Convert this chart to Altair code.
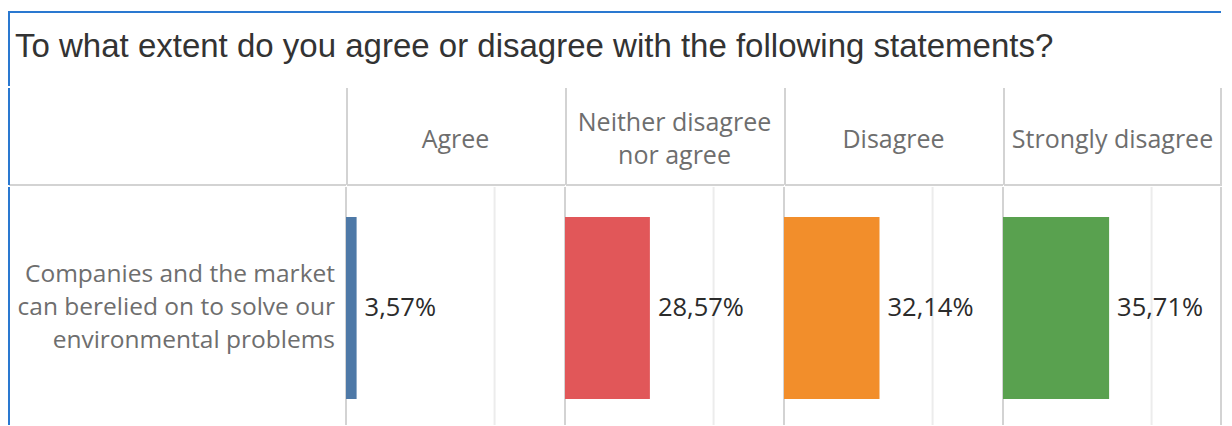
import altair as alt
import pandas as pd

# ---- data ----
title_text = "To what extent do you agree or disagree with the following statements?"
statement_lines = ["Companies and the market", "can berelied on to solve our", "environmental problems"]
categories = ["Agree", "Neither disagree nor agree", "Disagree", "Strongly disagree"]
header_lines = [["Agree"], ["Neither disagree", "nor agree"], ["Disagree"], ["Strongly disagree"]]
values = [0.0357, 0.2857, 0.3214, 0.3571]
value_labels = ["3,57%", "28,57%", "32,14%", "35,71%"]
colors = ["#4e79a7", "#e15759", "#f28e2b", "#59a14f"]
grid_values = [0.5]
zero_values = [0.0]

# ---- style / layout ----
FONT = "Open Sans"
TITLE_FONT = "Liberation Sans"
LABEL_W = 338
PANEL_W = 219
TOTAL_W = LABEL_W + 4 * PANEL_W
TITLE_H = 79
HEAD_H = 99
BODY_H = 240
LINE_H = 33.3
SEP = "#d3d3d3"
GRID = "#ececec"
BORDER = "#2a78d0"
GRAY_TXT = "#6e6e6e"
DARK_TXT = "#2b2b2b"
X_DOMAIN = [0, 0.737]
BAR_CENTER = 122

one = pd.DataFrame({"k": [0]})


def vline(x, h, color=SEP, top=1):
    # vertical separator kept inside the cell so the layout bounds stay exact
    return alt.Chart(one).mark_rule(color=color, strokeWidth=2).encode(
        x=alt.value(x), y=alt.value(top), y2=alt.value(h - 1))


# title strip
title_unit = alt.layer(
    alt.Chart(one).mark_rule(color=BORDER, strokeWidth=2).encode(
        y=alt.value(4), x=alt.value(1), x2=alt.value(TOTAL_W - 1)),
    vline(1, TITLE_H, BORDER, top=3),
    alt.Chart(one).mark_text(text=title_text, align="left", baseline="alphabetic",
                             font=TITLE_FONT, fontSize=33, color="#333333").encode(
        x=alt.value(7), y=alt.value(49)),
).properties(width=TOTAL_W, height=TITLE_H)

# header row
def hline_bottom(w):
    return alt.Chart(one).mark_rule(color=SEP, strokeWidth=2).encode(
        y=alt.value(HEAD_H - 1), x=alt.value(1), x2=alt.value(w))


blank_head = alt.layer(
    hline_bottom(LABEL_W),
    vline(1, HEAD_H, BORDER),
).properties(width=LABEL_W, height=HEAD_H)

head_cells = [blank_head]
for i, lines in enumerate(header_lines):
    multi = len(lines) > 1
    layers = [
        hline_bottom(PANEL_W),
        vline(1, HEAD_H),
        alt.Chart(one).mark_text(text=lines if multi else lines[0], align="center",
                                 baseline="middle", lineHeight=LINE_H, font=FONT,
                                 fontSize=25, color=GRAY_TXT).encode(
            x=alt.value(PANEL_W / 2),
            y=alt.value(52.5 - (len(lines) - 1) * LINE_H / 2)),
    ]
    if i == len(header_lines) - 1:
        layers.append(vline(PANEL_W - 1, HEAD_H))
    head_cells.append(alt.layer(*layers).properties(width=PANEL_W, height=HEAD_H))

header_row = alt.hconcat(*head_cells, spacing=0, bounds="flush")

# body row
label_cell = alt.layer(
    vline(1, BODY_H, BORDER),
    alt.Chart(one).mark_text(text=statement_lines, align="right", baseline="middle",
                             lineHeight=LINE_H, font=FONT, fontSize=24.5,
                             color=GRAY_TXT).encode(
        x=alt.value(327),
        y=alt.value(BAR_CENTER - (len(statement_lines) - 1) * LINE_H / 2)),
).properties(width=LABEL_W, height=BODY_H)

xscale = alt.Scale(domain=X_DOMAIN, nice=False, zero=True)
yscale = alt.Scale(paddingInner=0, paddingOuter=(BODY_H / 182 - 1) / 2, align=31 / (BODY_H - 182))

body_cells = [label_cell]
statement = " ".join(statement_lines)
for i, cat in enumerate(categories):
    df = pd.DataFrame({"statement": [statement], "category": [cat],
                       "value": [values[i]], "label": [value_labels[i]]})
    xenc = alt.X("value:Q", scale=xscale, axis=None)
    yenc = alt.Y("statement:N", scale=yscale, axis=None)
    grid = alt.Chart(pd.DataFrame({"value": grid_values})).mark_rule(
        color=GRID, strokeWidth=2).encode(x=xenc, y=alt.value(1), y2=alt.value(BODY_H - 1))
    zero = alt.Chart(pd.DataFrame({"value": zero_values})).mark_rule(
        color=SEP, strokeWidth=2).encode(
        x=xenc, y=alt.value(1), y2=alt.value(BODY_H - 1))
    bar = alt.Chart(df).mark_bar(color=colors[i]).encode(x=xenc, y=yenc)
    txt = alt.Chart(df).mark_text(align="left", baseline="middle", dx=8, font=FONT,
                                  fontSize=25.5, color=DARK_TXT).encode(
        x=xenc, y=yenc, text="label:N")
    layers = [grid, zero, bar, txt]
    if i == len(categories) - 1:
        layers.append(vline(PANEL_W - 1, BODY_H))
    body_cells.append(alt.layer(*layers).properties(width=PANEL_W, height=BODY_H))

body_row = alt.hconcat(*body_cells, spacing=0, bounds="flush")

chart = alt.vconcat(title_unit, header_row, body_row, spacing=0).properties(
    padding=0
).configure_view(stroke=None)

chart.save("out.html", embed_options={"renderer": "svg", "actions": False})
